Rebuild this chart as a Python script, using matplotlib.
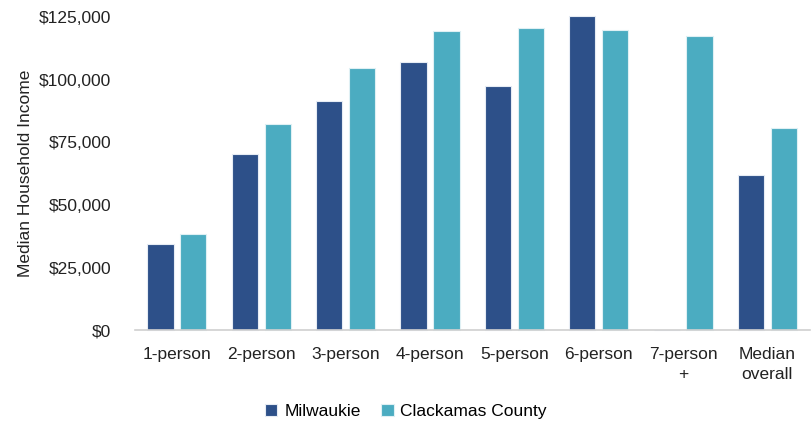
import numpy as np
import matplotlib
matplotlib.use("Agg")
import matplotlib.pyplot as plt
from matplotlib.ticker import FuncFormatter

categories = ["1-person", "2-person", "3-person", "4-person", "5-person",
              "6-person", "7-person\n+", "Median\noverall"]
milwaukie = [34300, 70300, 91500, 107200, 97400, 125400, 0, 61900]
clackamas = [38300, 82300, 104600, 119400, 120600, 119800, 117400, 80700]

dark = "#2D5089"
light = "#4BACC1"

plt.rcParams["font.family"] = ["Liberation Sans", "DejaVu Sans"]

fig = plt.figure(figsize=(8.12, 4.22), dpi=100)
ax = fig.add_axes([0.166, 0.217, 0.831, 0.743])

x = np.arange(len(categories))
w = 0.31
ax.bar(x - w / 2 - 0.04, milwaukie, w, color=dark, edgecolor="#e6ecf4",
       linewidth=0.8, label="Milwaukie", clip_on=False)
ax.bar(x + w / 2 + 0.04, clackamas, w, color=light, edgecolor="#dff0f4",
       linewidth=0.8, label="Clackamas County", clip_on=False)

ax.set_xlim(-0.5, len(categories) - 0.5)
ax.set_ylim(0, 125000)
ax.set_yticks(np.arange(0, 125001, 25000))
ax.yaxis.set_major_formatter(FuncFormatter(lambda v, p: "${:,.0f}".format(v)))
ax.set_xticks(x)
ax.set_xticklabels(categories, linespacing=1.45)
ax.tick_params(axis="both", length=0, labelsize=12.5, colors="#222222")
ax.tick_params(axis="x", pad=12)
ax.tick_params(axis="y", pad=17)

for s in ["top", "right", "left"]:
    ax.spines[s].set_visible(False)
ax.spines["bottom"].set_color("#d0d0d0")
ax.spines["bottom"].set_linewidth(1.2)

ax.set_ylabel("Median Household Income", fontsize=12.5, color="#222222", labelpad=4)

fig.legend(loc="lower center", bbox_to_anchor=(0.5, -0.03), ncol=2, frameon=False,
           fontsize=12.5, handlelength=0.7, handleheight=0.7, handletextpad=0.4,
           columnspacing=1.2)

plt.savefig("out.png", dpi=100)
